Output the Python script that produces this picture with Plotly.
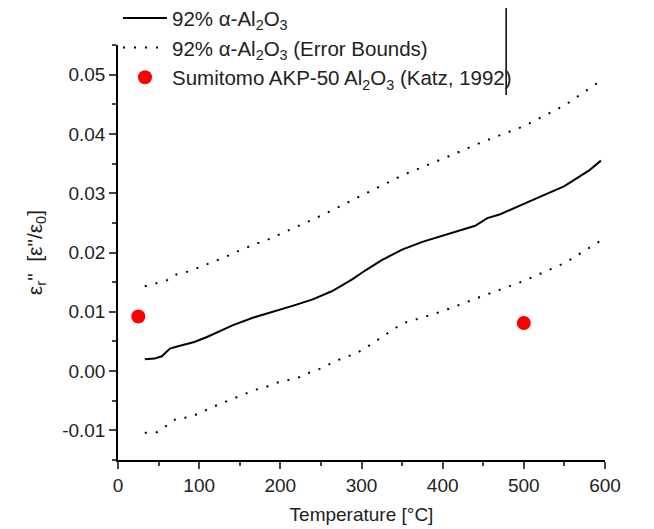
import plotly.graph_objects as go

# Main measured curve (92% alpha-Al2O3)
temp_main = [33, 45, 54, 64, 74, 94, 109, 125, 141, 166, 191, 215, 240, 264, 289, 305,
             325, 350, 375, 400, 430, 440, 455, 470, 500, 530, 550, 565, 580, 595]
eps_main = [0.0020, 0.0021, 0.0025, 0.0038, 0.0042, 0.0049, 0.0057, 0.0067, 0.0077, 0.0090,
            0.0100, 0.0110, 0.0121, 0.0135, 0.0155, 0.0170, 0.0187, 0.0205, 0.0218, 0.0228,
            0.0240, 0.0245, 0.0258, 0.0264, 0.0282, 0.0300, 0.0312, 0.0325, 0.0338, 0.0355]

# Error bounds
temp_upper = [33, 46, 60, 72, 87, 100, 114, 128, 141, 155, 168, 182, 200, 250, 300, 350,
              400, 450, 500, 550, 595]
eps_upper = [0.0143, 0.0148, 0.0153, 0.0163, 0.0168, 0.0175, 0.0182, 0.0190, 0.0198, 0.0207,
             0.0214, 0.0220, 0.0231, 0.0262, 0.0296, 0.0330, 0.0358, 0.0387, 0.0413, 0.0448,
             0.0490]
temp_lower = [33, 48, 60, 72, 87, 101, 114, 128, 141, 154, 168, 182, 195, 210, 224, 237,
              251, 264, 277, 292, 305, 350, 400, 450, 500, 550, 595]
eps_lower = [-0.0104, -0.0103, -0.0092, -0.0080, -0.0078, -0.0071, -0.0062, -0.0054, -0.0047,
             -0.0039, -0.0032, -0.0027, -0.0020, -0.0015, -0.0010, -0.0002, 0.0005, 0.0014,
             0.0022, 0.0029, 0.0039, 0.0080, 0.0101, 0.0127, 0.0152, 0.0182, 0.0220]

# Katz, 1992
temp_katz = [25, 500]
eps_katz = [0.0092, 0.0081]

x_ticks = [0, 100, 200, 300, 400, 500, 600]
y_ticks = [-0.01, 0.00, 0.01, 0.02, 0.03, 0.04, 0.05]
y_tick_labels = ["-0.01", "0.00", "0.01", "0.02", "0.03", "0.04", "0.05"]

FONT = "Liberation Sans, Arial, sans-serif"
dot_dash = "2px,9px"

fig = go.Figure()
fig.add_trace(go.Scatter(x=temp_main, y=eps_main, mode="lines",
                         line=dict(color="black", width=2),
                         name="92% α-Al<sub>2</sub>O<sub>3</sub>"))
fig.add_trace(go.Scatter(x=temp_upper, y=eps_upper, mode="lines",
                         line=dict(color="black", width=2, dash=dot_dash),
                         name="92% α-Al<sub>2</sub>O<sub>3</sub> (Error Bounds)",
                         legendgroup="eb"))
fig.add_trace(go.Scatter(x=temp_lower, y=eps_lower, mode="lines",
                         line=dict(color="black", width=2, dash=dot_dash),
                         name="lower", showlegend=False, legendgroup="eb"))
fig.add_trace(go.Scatter(x=temp_katz, y=eps_katz, mode="markers",
                         marker=dict(color="#ff0000", size=14),
                         name="Sumitomo AKP-50 Al<sub>2</sub>O<sub>3</sub> (Katz, 1992)"))

# page body has an 8px default margin: figure is sized to fill the rest of the window
fig.update_layout(
    width=646, height=521,
    margin=dict(l=110, r=49, t=37, b=69, autoexpand=False),
    paper_bgcolor="white", plot_bgcolor="white",
    font=dict(family=FONT, size=19, color="#222"),
    showlegend=True,
    legend=dict(x=0.0, y=1.113, xanchor="left", yanchor="top",
                bgcolor="rgba(0,0,0,0)", font=dict(size=20.5, color="#222"),
                itemwidth=44, tracegroupgap=0),
    shapes=[dict(type="line", xref="paper", yref="paper", x0=0.797, x1=0.797,
                 y0=0.8795, y1=1.089, line=dict(color="black", width=1.5))],
)
fig.update_xaxes(range=[0, 600], tickvals=x_ticks, ticks="outside", ticklen=7,
                 tickwidth=1.5, showline=True, linecolor="black", linewidth=1.5,
                 showgrid=False, zeroline=False,
                 minor=dict(dtick=50, ticks="outside", ticklen=4, tickwidth=1.5),
                 title=dict(text="Temperature [°C]", font=dict(size=19), standoff=13))
fig.update_yaxes(range=[-0.015, 0.055], tickvals=y_ticks, ticktext=y_tick_labels,
                 ticks="outside", ticklen=7, tickwidth=1.5,
                 showline=True, linecolor="black", linewidth=1.5,
                 showgrid=False, zeroline=False,
                 minor=dict(dtick=0.005, ticks="outside", ticklen=4, tickwidth=1.5),
                 title=dict(text='ε<sub>r</sub>"  [ε"/ε<sub>0</sub>]', font=dict(size=21),
                            standoff=14))

fig.write_html("out.html")
